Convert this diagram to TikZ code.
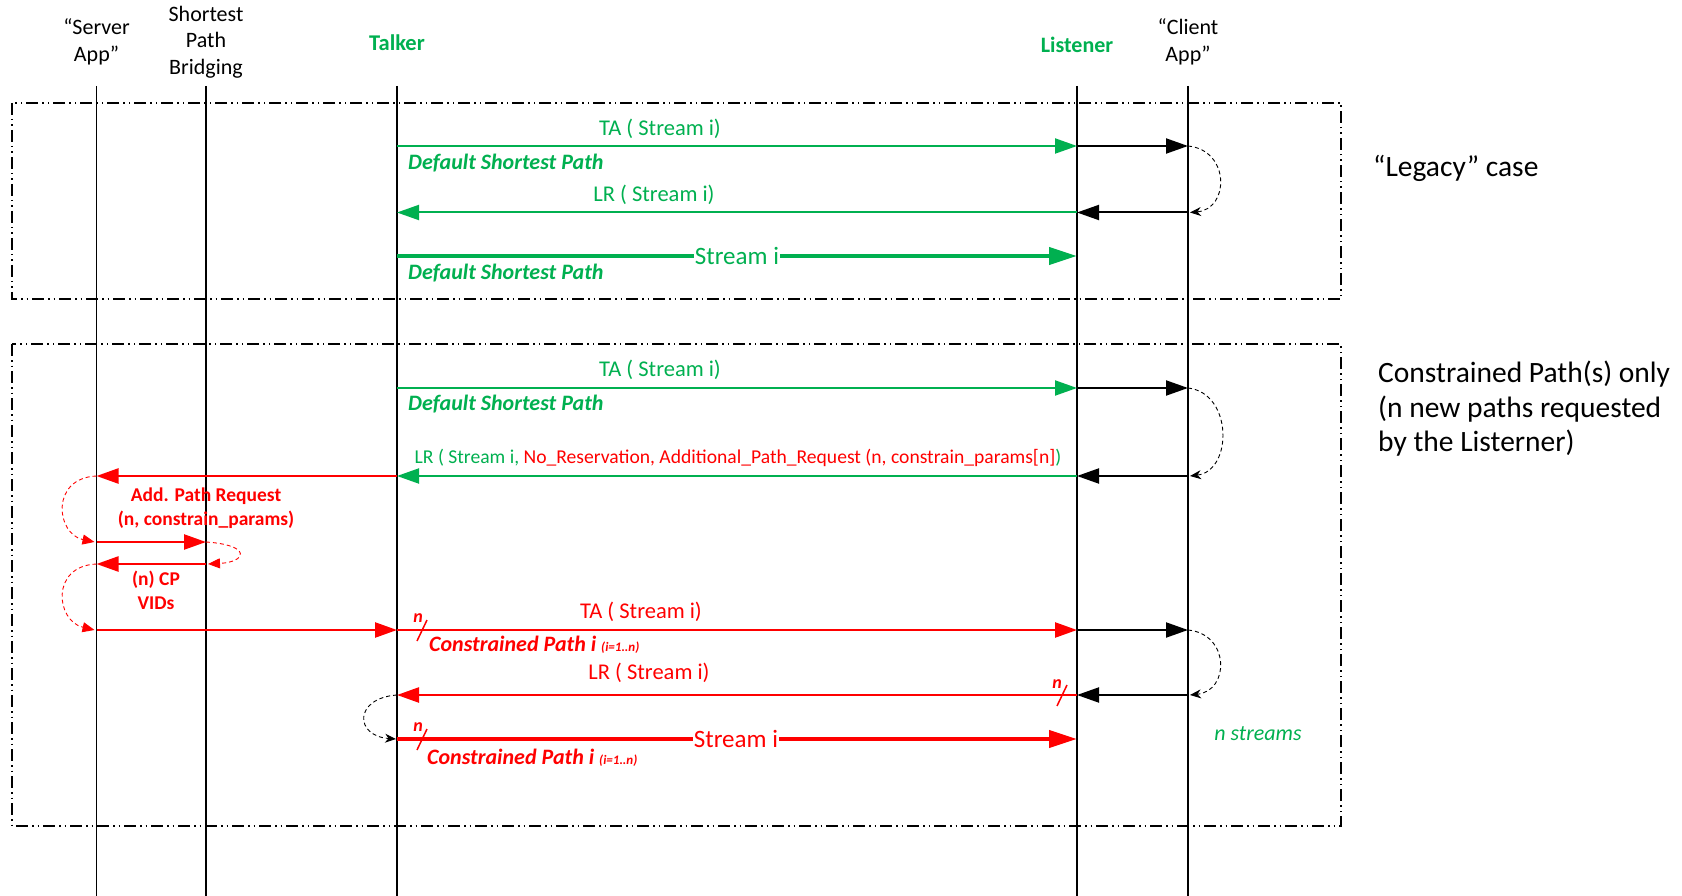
\documentclass[tikz,border=0pt]{standalone}
\usepackage{fontspec}
\setmainfont{Carlito}
\usetikzlibrary{arrows.meta}
\definecolor{cgreen}{RGB}{0,176,80}
\definecolor{cred}{RGB}{255,0,0}
\begin{document}
\begin{tikzpicture}[x=1pt,y=-1pt,
  lifeline/.style={line width=1.6pt,black},
  hdr/.style={font=\fontsize{22}{26.5}\selectfont, align=center, inner sep=0pt},
  hdrg/.style={font=\fontsize{22.5}{26.5}\bfseries\selectfont, text=cgreen, inner sep=0pt},
  frame/.style={line width=1.8pt, dash pattern=on 12pt off 4pt on 1.5pt off 4pt on 1.5pt off 4pt},
  msg/.style={line width=2pt,-{Triangle[length=22pt,width=15pt]}},
  strm/.style={line width=4pt,-{Triangle[length=28pt,width=17pt]}},
  loopb/.style={black,line width=0.9pt,dash pattern=on 4pt off 3pt,-{Stealth[length=11pt,width=9pt]}},
  loopr/.style={cred,line width=0.9pt,dash pattern=on 4pt off 3pt,-{Triangle[length=12pt,width=10pt]}},
  lbl/.style={font=\fontsize{22.5}{25}\selectfont, inner sep=0pt},
  path/.style={font=\fontsize{22}{25}\bfseries\itshape\selectfont, inner sep=0pt, anchor=west},
  big/.style={font=\fontsize{25}{30}\selectfont, inner sep=1pt, fill=white},
  redb/.style={font=\fontsize{19.5}{24}\bfseries\selectfont, text=cred, align=center, inner sep=0pt},
  nmark/.style={font=\fontsize{18}{18}\bfseries\itshape\selectfont, text=cred, inner sep=0pt},
  side/.style={font=\fontsize{29.5}{34.5}\selectfont, align=left, inner sep=0pt, anchor=west}
]
\useasboundingbox (0,0) rectangle (1682,896);
\fill[white] (0,0) rectangle (1682,896);

% lifeline coordinates
\coordinate (sa) at (96.5,86);
\coordinate (sp) at (206,86);
\coordinate (tk) at (397,86);
\coordinate (ls) at (1077,86);
\coordinate (ca) at (1188,86);
\coordinate (bot) at (0,896);

% headers
\node[hdr] (hsa) at (96.5,42) {“Server\\App”};
\node[hdr] (hsp) at (206,42) {Shortest\\Path\\Bridging};
\node[hdrg] (htk) at (397,43) {Talker};
\node[hdrg,font=\fontsize{22}{26.5}\bfseries\selectfont] (hls) at (1077,45) {Listener};
\node[hdr] (hca) at (1188,42) {“Client\\App”};

% frames
\draw[frame] (12,103) rectangle (1341,299);
\draw[frame] (12,344) rectangle (1341,826);

% lifelines
\foreach \l in {sa,sp,tk,ls,ca} \draw[lifeline] (\l) -- (\l|-bot);

% rows
\coordinate (r1) at (0,146);
\coordinate (r2) at (0,212.5);
\coordinate (r3) at (0,256);
\coordinate (r4) at (0,388);
\coordinate (r5) at (0,476);
\coordinate (r6) at (0,542);
\coordinate (r7) at (0,564);
\coordinate (r8) at (0,630);
\coordinate (r9) at (0,695);
\coordinate (r10) at (0,739);

% ---- Legacy box
\draw[msg,cgreen] (tk|-r1) -- (ls|-r1);
\draw[msg,black] (ls|-r1) -- (ca|-r1);
\draw[loopb] (ca|-r1) .. controls (1230,150) and (1230,209) .. ([xshift=2pt]ca|-r2);
\draw[msg,black] (ca|-r2) -- (ls|-r2);
\draw[msg,cgreen] (ls|-r2) -- (tk|-r2);
\draw[strm,cgreen] (tk|-r3) -- (ls|-r3);
\node[lbl,text=cgreen] (ta1) at (660,129) {TA ( Stream i)};
\node[path,text=cgreen] (dp1) at (408,163) {Default Shortest Path};
\node[lbl,text=cgreen] (lr1) at (654,195) {LR ( Stream i)};
\node[big,text=cgreen] (st1) at (737,256) {Stream i};
\node[path,text=cgreen] (dp2) at (408,273) {Default Shortest Path};
\node[side,font=\fontsize{29.5}{34}\selectfont] (leg) at (1373,168) {“Legacy” case};

% ---- Constrained box
\draw[msg,cgreen] (tk|-r4) -- (ls|-r4);
\draw[msg,black] (ls|-r4) -- (ca|-r4);
\draw[loopb] (ca|-r4) .. controls (1233,393) and (1233,471) .. ([xshift=2pt]ca|-r5);
\draw[msg,black] (ca|-r5) -- (ls|-r5);
\draw[msg,cgreen] (ls|-r5) -- (tk|-r5);
\draw[msg,cred,line width=2.4pt] (tk|-r5) -- (sa|-r5);
\node[lbl,text=cgreen] (ta2) at (660,370) {TA ( Stream i)};
\node[path,text=cgreen] (dp3) at (408,404) {Default Shortest Path};
\node[font=\fontsize{19.6}{22}\selectfont, inner sep=0pt] (lr2) at (738,458) {\textcolor{cgreen}{LR ( Stream i, }\textcolor{cred}{No\_Reservation, Additional\_Path\_Request (n, constrain\_params[n]}\textcolor{cgreen}{)}};

\draw[loopr] (sa|-r5) .. controls (50,478) and (56,534) .. ([xshift=-2pt]sa|-r6);
\draw[msg,cred,line width=2.4pt] (sa|-r6) -- (sp|-r6);
\draw[loopr] (sp|-r6) .. controls (252,545) and (247,562) .. ([xshift=2pt]sp|-r7);
\draw[msg,cred,line width=2.4pt] (sp|-r7) -- (sa|-r7);
\draw[loopr] (sa|-r7) .. controls (50,566) and (56,621) .. ([xshift=-2pt]sa|-r8);
\draw[msg,cred,line width=2.4pt] (sa|-r8) -- (tk|-r8);
\node[redb] (apr) at (206,508) {Add. Path Request\\(n, constrain\_params)};
\node[redb] (cpv) at (156,590) {(n) CP\\VIDs};

\draw[msg,cred,line width=2.4pt] (tk|-r8) -- (ls|-r8);
\draw[msg,black] (ls|-r8) -- (ca|-r8);
\draw[loopb] (ca|-r8) .. controls (1230,634) and (1230,691) .. ([xshift=2pt]ca|-r9);
\draw[msg,black] (ca|-r9) -- (ls|-r9);
\draw[msg,cred,line width=2.4pt] (ls|-r9) -- (tk|-r9);
\draw[loopb] (tk|-r9) .. controls (354,698) and (354,736) .. ([xshift=-1pt]tk|-r10);
\draw[strm,cred] (tk|-r10) -- (ls|-r10);

\node[lbl,text=cred] (ta3) at (641,612) {TA ( Stream i)};
\node[path,text=cred] (cp1) at (429,645) {Constrained Path i {\fontsize{13}{14}\selectfont (i=1..n)}};
\node[lbl,text=cred] (lr3) at (649,673) {LR ( Stream i)};
\node[big,text=cred] (st2) at (736,739) {Stream i};
\node[path,text=cred] (cp2) at (427,758) {Constrained Path i {\fontsize{13}{14}\selectfont (i=1..n)}};

% n markers
\draw[cred,line width=1.5pt] (417,641) -- (427,620);
\node[nmark] (n1) at (418,618) {n};
\draw[cred,line width=1.5pt] (1057,706) -- (1067,685);
\node[nmark] (n2) at (1057,684) {n};
\draw[cred,line width=1.5pt] (417,750) -- (427,729);
\node[nmark] (n3) at (418,727) {n};

\node[font=\fontsize{22}{25}\itshape\selectfont,text=cgreen,inner sep=0pt] (ns) at (1258,734) {n streams};
\node[side] (cpo) at (1378,409) {Constrained Path(s) only\\(n new paths requested\\by the Listerner)};
\end{tikzpicture}
\end{document}
